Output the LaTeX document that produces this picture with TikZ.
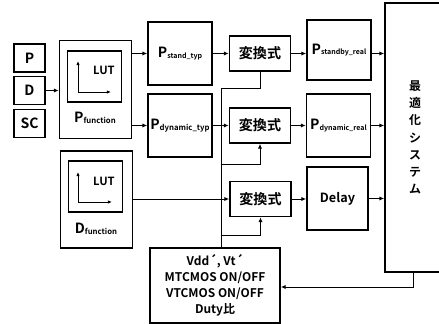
\documentclass[tikz,border=0pt]{standalone}
\usepackage{fontspec}
\setmainfont{Noto Sans CJK JP Bold}
\usetikzlibrary{arrows.meta}
\newcommand{\sublbl}[3][5.5]{{\fontsize{10}{10}\selectfont #2}\raisebox{-0.4pt}{\fontsize{#1}{6}\selectfont #3}}

\begin{document}
\begin{tikzpicture}[x=0.25mm,y=-0.25mm,
  box/.style={draw,line width=1.1pt,inner sep=0pt},
  inbox/.style={box,minimum width=7.75mm,minimum height=6.9mm,font=\fontsize{10}{10}\selectfont},
  funcbox/.style={box,minimum width=18mm,minimum height=24.5mm},
  lutbox/.style={box,minimum width=13.6mm,minimum height=12.75mm},
  valbox/.style={box,minimum width=16mm,minimum height=15.75mm},
  convbox/.style={box,minimum width=15.25mm,minimum height=8.75mm,font=\fontsize{10}{10}\selectfont},
  lbl/.style={inner sep=0pt},
  wire/.style={line width=0.7pt},
  arr/.style={wire,-{Latex[length=3.5pt,width=3pt]}},
  axis/.style={wire,-{Latex[length=3pt,width=2.5pt]}}]
\useasboundingbox (0,0) rectangle (439,324);
\node[inbox] (inP) at (29.5,58) {P};
\node[inbox] (inD) at (29.5,90.5) {D};
\node[inbox] (inSC) at (29.5,123.5) {SC};
\node[funcbox] (pfunc) at (95.5,89.5) {};
\node[lutbox] (lutP) at (94.5,76.5) {};
\node[lbl,font=\fontsize{8}{8}\selectfont] (lutPtxt) at (104,70) {LUT};
\coordinate (axP) at (78,92);
\draw[axis] (axP) -- ++(0,-31);
\draw[axis] (axP) -- ++(33,0);
\node[lbl] (pfunctxt) at (95,118) {\sublbl{P}{function}};
\node[funcbox,minimum height=24.25mm] (dfunc) at (96.5,199.5) {};
\node[lutbox] (lutD) at (95.5,186.5) {};
\node[lbl,font=\fontsize{8}{8}\selectfont] (lutDtxt) at (104,181) {LUT};
\coordinate (axD) at (78,202);
\draw[axis] (axD) -- ++(0,-30);
\draw[axis] (axD) -- ++(34,0);
\node[lbl] (dfunctxt) at (96,229) {\sublbl{D}{function}};
\node[valbox] (pstd) at (180,53.5) {\sublbl[5]{P}{stand\_typ}};
\node[valbox] (pdyn) at (180,125.5) {\sublbl{P}{dynamic\_typ}};
\node[convbox] (conv1) at (260,53.5) {変換式};
\node[convbox] (conv2) at (260,125.5) {変換式};
\node[convbox] (conv3) at (260.5,199) {変換式};
\node[valbox,minimum height=15mm] (pstdreal) at (339,50) {\sublbl[5]{P}{standby\_real}};
\node[valbox] (pdynreal) at (338.5,125.5) {\sublbl[5]{P}{dynamic\_real}};
\node[valbox,minimum width=15.25mm,font=\fontsize{9}{9}\selectfont] (delay) at (337.5,198.5) {Delay};
\node[box,minimum width=15mm,minimum height=67.25mm,align=center,
  font=\fontsize{8.5}{12.3}\selectfont] (opt) at (415,137.5) {最\\適\\化\\シ\\ス\\テ\\ム};
\node[box,minimum width=32.5mm,minimum height=18.75mm,align=center,
  font=\fontsize{8.5}{11.3}\selectfont] (ctrl) at (215,285.5)
  {Vdd´, Vt´\\MTCMOS ON/OFF\\VTCMOS ON/OFF\\Duty比};
\draw[arr] (inD.east) -- (inD.east -| pfunc.west);
\draw[arr] (pfunc.east |- pstd) -- (pstd.west);
\draw[arr] (pfunc.east |- pdyn) -- (pdyn.west);
\draw[arr] (pstd.east) -- (pstd.east -| conv1.west);
\draw[arr] (pdyn.east) -- (pdyn.east -| conv2.west);
\draw[arr] (dfunc.east |- conv3) -- (conv3.west);
\draw[arr] (conv1.east) -- (conv1.east -| pstdreal.west);
\draw[arr] (conv2.east) -- (conv2.east -| pdynreal.west);
\draw[arr] (conv3.east) -- (conv3.east -| delay.west);
\draw[arr] (pstdreal.east |- conv1) -- (conv1 -| opt.west);
\draw[arr] (pdynreal.east) -- (pdynreal.east -| opt.west);
\draw[arr] (delay.east) -- (delay.east -| opt.west);
\coordinate (busTop) at (221,88);
\coordinate (tap2) at (221,164);
\coordinate (tap3) at (221,235);
\draw[wire] (conv1.south) |- (busTop) -- (busTop |- ctrl.north);
\draw[arr] (tap2) -| (conv2.south);
\draw[arr] (tap3) -| (conv3.south);
\coordinate (fbTurn) at (413,287);
\draw[arr] (opt.south -| fbTurn) -- (fbTurn) -- (fbTurn -| ctrl.east);
\end{tikzpicture}
\end{document}
